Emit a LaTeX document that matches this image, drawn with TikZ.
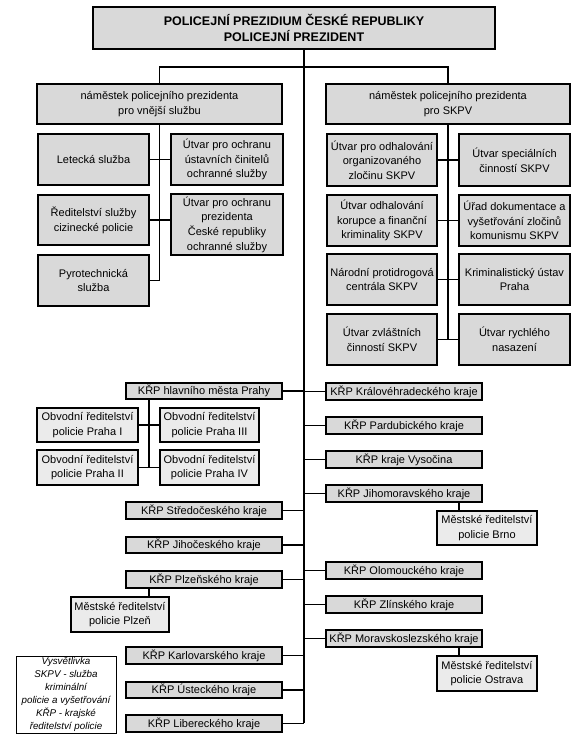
\documentclass[tikz,border=0pt]{standalone}
\usepackage{fontspec}
\setmainfont{Liberation Sans}
\begin{document}
\begin{tikzpicture}[x=1pt,y=-1pt,
  every node/.style={inner sep=1pt,outer sep=0pt,align=center,font=\fontsize{11}{14.7}\selectfont},
  unitbox/.style={draw=black,line width=1.3pt,fill=black!15},
  subbox/.style={draw=black,line width=1.3pt,fill=black!8},
  legbox/.style={draw=black,line width=1pt,fill=white,font=\fontsize{9.8}{13.1}\selectfont\itshape},
  titlebox/.style={unitbox,font=\fontsize{12.5}{16.5}\selectfont\bfseries},
  conn/.style={draw=black,line width=1.3pt}]
\newcommand\mybox[7]{%
  \pgfmathsetmacro\myw{#5-#3}\pgfmathsetmacro\myh{#6-#4}%
  \pgfmathsetmacro\mycx{(#3+#5)/2}\pgfmathsetmacro\mycy{(#4+#6)/2}%
  \node[#2,minimum width=\myw pt,minimum height=\myh pt] (#1) at (\mycx,\mycy) {#7};}
\useasboundingbox[fill=white] (0,0) rectangle (582,743);
% top
\mybox{top}{titlebox}{93}{7}{495}{49}{POLICEJNÍ PREZIDIUM ČESKÉ REPUBLIKY\\POLICEJNÍ PREZIDENT}
\mybox{dl}{unitbox}{37}{84}{282}{124}{náměstek policejního prezidenta\\pro vnější službu}
\mybox{dr}{unitbox}{326}{84}{570}{124}{náměstek policejního prezidenta\\pro SKPV}
% left units
\mybox{let}{unitbox}{38}{134}{149}{185}{Letecká služba}
\mybox{uo1}{unitbox}{171}{134}{283}{185}{Útvar pro ochranu\\ústavních činitelů\\ochranné služby}
\mybox{red}{unitbox}{38}{195}{149}{245}{Ředitelství služby\\cizinecké policie}
\mybox{uop}{unitbox}{171}{194}{283}{255}{Útvar pro ochranu\\prezidenta\\České republiky\\ochranné služby}
\mybox{pyro}{unitbox}{38}{255}{149}{306}{Pyrotechnická\\služba}
% right units
\mybox{ra}{unitbox}{327}{134}{437}{186}{Útvar pro odhalování\\organizovaného\\zločinu SKPV}
\mybox{rb}{unitbox}{459}{134}{570}{186}{Útvar speciálních\\činností SKPV}
\mybox{rc}{unitbox}{327}{195}{437}{246}{Útvar odhalování\\korupce a finanční\\kriminality SKPV}
\mybox{rd}{unitbox}{459}{195}{570}{246}{Úřad dokumentace a\\vyšetřování zločinů\\komunismu SKPV}
\mybox{re}{unitbox}{327}{254}{437}{305}{Národní protidrogová\\centrála SKPV}
\mybox{rf}{unitbox}{459}{254}{570}{305}{Kriminalistický ústav\\Praha}
\mybox{rg}{unitbox}{327}{314}{437}{365}{Útvar zvláštních\\činností SKPV}
\mybox{rh}{unitbox}{459}{314}{570}{365}{Útvar rychlého\\nasazení}
% left KRP
\mybox{prahy}{unitbox}{126}{383}{282}{399}{KŘP hlavního města Prahy}
\mybox{ob1}{subbox}{37}{408}{138}{442}{Obvodní ředitelství\\policie Praha I}
\mybox{ob3}{subbox}{160}{408}{259}{442}{Obvodní ředitelství\\policie Praha III}
\mybox{ob2}{subbox}{37}{450}{138}{485}{Obvodní ředitelství\\policie Praha II}
\mybox{ob4}{subbox}{160}{450}{259}{485}{Obvodní ředitelství\\policie Praha IV}
\mybox{stredo}{unitbox}{126}{502}{282}{519}{KŘP Středočeského kraje}
\mybox{jihoc}{unitbox}{126}{537}{282}{553}{KŘP Jihočeského kraje}
\mybox{plzk}{unitbox}{126}{571}{282}{588}{KŘP Plzeňského kraje}
\mybox{plzm}{subbox}{71}{597}{169}{632}{Městské ředitelství\\policie Plzeň}
\mybox{karl}{unitbox}{126}{647}{282}{664}{KŘP Karlovarského kraje}
\mybox{ust}{unitbox}{126}{682}{282}{698}{KŘP Ústeckého kraje}
\mybox{lib}{unitbox}{126}{715}{282}{732}{KŘP Libereckého kraje}
% right KRP
\mybox{kral}{unitbox}{326}{383}{482}{400}{KŘP Královéhradeckého kraje}
\mybox{pard}{unitbox}{326}{417}{482}{434}{KŘP Pardubického kraje}
\mybox{vys}{unitbox}{326}{451}{482}{468}{KŘP kraje Vysočina}
\mybox{jihom}{unitbox}{326}{485}{482}{502}{KŘP Jihomoravského kraje}
\mybox{brno}{subbox}{437}{511}{537}{545}{Městské ředitelství\\policie Brno}
\mybox{olom}{unitbox}{326}{562}{482}{579}{KŘP Olomouckého kraje}
\mybox{zlin}{unitbox}{326}{596}{482}{613}{KŘP Zlínského kraje}
\mybox{mor}{unitbox}{326}{630}{482}{647}{KŘP Moravskoslezského kraje}
\mybox{ostr}{subbox}{437}{656}{537}{691}{Městské ředitelství\\policie Ostrava}
% legend
\mybox{leg}{legbox}{16}{656}{116}{733}{Vysvětlivka\\SKPV - služba\\kriminální\\policie a vyšetřování\\KŘP - krajské\\ředitelství policie}
% coordinates
\coordinate (trunkEnd) at (304,723);
\coordinate (prStem) at (149,468);
\coordinate (bStem) at (459,0);
\coordinate (pStem) at (149,0);
% connectors
\draw[conn] (top.south -| trunkEnd) -- (trunkEnd);
\draw[conn] (dl.north) -- ++(0,-17) -| (dr.north);
\draw[conn] (dl.south) |- (pyro.east);
\draw[conn] (let.east) -- (uo1.west);
\draw[conn] (red.east) -- (red.east -| uop.west);
\draw[conn] (dr.south) |- (rg.east);
\draw[conn] (ra.east) -- (rb.west);
\draw[conn] (rc.east) -- (rd.west);
\draw[conn] (re.east) -- (rf.west);
\draw[conn] (rg.east) -- (rh.west);
\foreach \n in {prahy,stredo,jihoc,plzk,karl,ust,lib}
  \draw[conn] (\n.east) -- (\n.east -| trunkEnd);
\foreach \n in {kral,pard,vys,jihom,olom,zlin,mor}
  \draw[conn] (\n.west) -- (\n.west -| trunkEnd);
\draw[conn] (prahy.south -| prStem) -- (prStem);
\draw[conn] (ob1.east) -- (ob3.west);
\draw[conn] (ob2.east) -- (ob4.west);
\draw[conn] (jihom.south -| bStem) -- (brno.north -| bStem);
\draw[conn] (mor.south -| bStem) -- (ostr.north -| bStem);
\draw[conn] (plzk.south -| pStem) -- (plzm.north -| pStem);
\end{tikzpicture}
\end{document}
